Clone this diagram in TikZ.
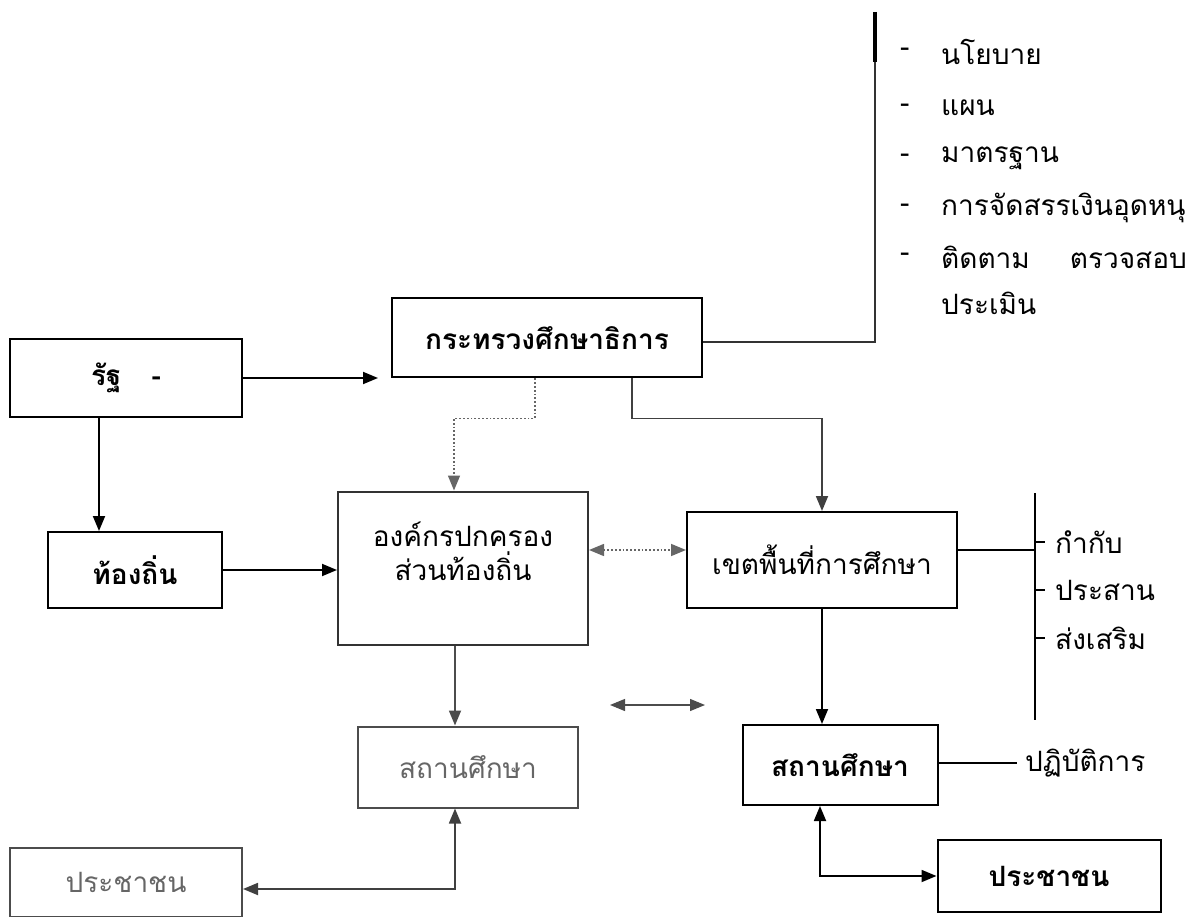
\documentclass[tikz,border=0pt]{standalone}
\usepackage{fontspec}
\newfontfamily\thaifont[Script=Thai]{Loma}
\usetikzlibrary{arrows.meta, positioning, calc}

\begin{document}
\begin{tikzpicture}[
      x=1pt, y=-1pt,
      box/.style={rectangle, draw, line width=2pt, inner sep=0pt, align=center, font=\thaifont\fontsize{28}{34}\selectfont},
      boldbox/.style={box, font=\thaifont\bfseries\fontsize{28}{34}\selectfont},
      faint/.style={draw=black!70, text=black!60},
      arrow/.style={-{Triangle[length=15pt, width=12pt]}, line width=1.8pt},
      twoway/.style={{Triangle[length=15pt, width=12pt]}-{Triangle[length=15pt, width=12pt]}, line width=1.8pt},
      dotarrow/.style={arrow, dotted, line width=1.5pt, draw=black!60},
      item/.style={anchor=west, inner sep=0pt, font=\thaifont\fontsize{28}{34}\selectfont}
      ]

      \useasboundingbox (0,0) rectangle (1187,917);

      % Boxes
      \node[boldbox, minimum width=232pt, minimum height=78pt] (state) at (126,378) {รัฐ\hspace{30pt}-};
      \node[boldbox, minimum width=310pt, minimum height=79pt] (moe) at (547,338) {กระทรวงศึกษาธิการ};
      \node[boldbox, minimum width=174pt, minimum height=76pt] (local) at (135,570) {ท้องถิ่น};
      \node[box, draw=black!80, minimum width=250pt, minimum height=153pt] (lao) at (463,568) {};
      \node[item, anchor=center, align=center] (laoText) at (463,551) {องค์กรปกครอง\\ส่วนท้องถิ่น};
      \node[box, minimum width=270pt, minimum height=96pt] (area) at (822,560) {เขตพื้นที่การศึกษา};
      \node[box, faint, minimum width=220pt, minimum height=81pt] (schoolL) at (468,767) {สถานศึกษา};
      \node[boldbox, minimum width=195pt, minimum height=80pt] (schoolR) at (840,765) {สถานศึกษา};
      \node[box, faint, minimum width=232pt, minimum height=69pt] (peopleL) at (126,882) {ประชาชน};
      \node[boldbox, minimum width=223pt, minimum height=72pt] (peopleR) at (1049,876) {ประชาชน};

      % Duties of the ministry
      \coordinate (barTop) at (875,12);
      \coordinate (barBot) at (875,342);
      \draw[line width=2pt, black!80] (moe.east |- barBot) -- (barBot) -- (barTop);
      \draw[line width=3.5pt] (barTop) -- ++(0,50);
      \foreach \y/\txt [count=\i] in {52/นโยบาย, 108/แผน, 158/มาตรฐาน, 208/การจัดสรรเงินอุดหนุ, 257/ติดตาม\hspace{40pt}ตรวจสอบ} {
         \node[item] (dash\i) at (900,\y) {-};
         \node[item] (duty\i) at (941,\y) {\txt};
      }
      \node[item] (duty6) at (941,303) {ประเมิน};

      % Duties of the area office
      \coordinate (rbarTop) at (1035,493);
      \coordinate (rbarBot) at (1035,720);
      \draw[line width=2pt] (rbarTop) -- (rbarBot);
      \draw[line width=2pt] ([yshift=10pt]area.east) -- ([yshift=10pt]area.east -| rbarTop);
      \foreach \y/\txt [count=\i] in {542/กำกับ, 590/ประสาน, 638/ส่งเสริม} {
         \draw[line width=1.8pt] (1035,\y) -- ++(10,0);
         \node[item] (task\i) at (1055,\y) {\txt};
      }

      % Practice
      \node[item, inner sep=8pt] (act) at (1017,763) {ปฏิบัติการ};
      \draw[line width=1.8pt] (schoolR.east |- act.west) -- (act.west);

      % Arrows
      \coordinate (moeIn) at (378,378);
      \draw[arrow] (state.east) -- (moeIn);
      \draw[arrow] ([xshift=90pt]state.south west) -- ([xshift=52pt]local.north west);
      \draw[arrow] (local.east) -- (local.east -| lao.west);
      \draw[dotarrow] ([xshift=-12pt]moe.south) -- ++(0,40) -| ([xshift=-9pt]lao.north);
      \draw[arrow, black!75] ([xshift=85pt]moe.south) -- ++(0,40) -| (area.north);
      \draw[twoway, dotted, line width=1.5pt, draw=black!60] ([yshift=18pt]lao.east) -- ([yshift=18pt]lao.east -| area.west);
      \draw[arrow, black!70] ([xshift=-8pt]lao.south) -- ([xshift=-8pt]lao.south |- schoolL.north);
      \draw[arrow] (area.south) -- (area.south |- schoolR.north);

      \coordinate (midL) at (610,705);
      \coordinate (midR) at (705,705);
      \draw[twoway, black!70, line width=1.2pt] (midL) -- (midR);

      \draw[twoway, black!75] ([xshift=-13pt]schoolL.south) |- ([yshift=-7pt]peopleL.east);
      \draw[twoway] ([xshift=-20pt]schoolR.south) |- (peopleR.west);

   \end{tikzpicture}
\end{document}
